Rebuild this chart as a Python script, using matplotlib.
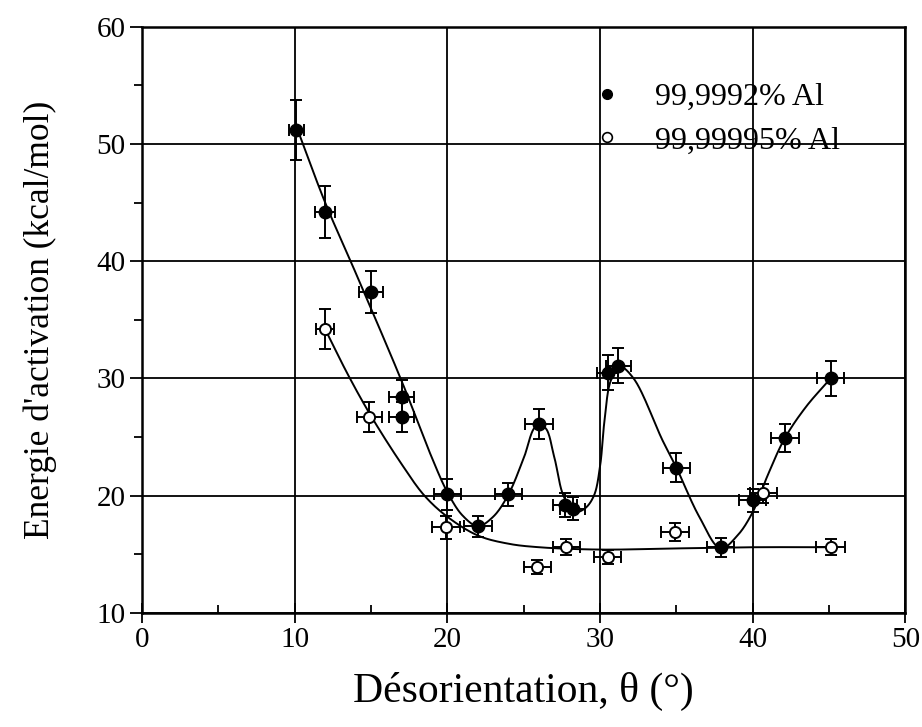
import numpy as np
import matplotlib
matplotlib.use("Agg")
import matplotlib.pyplot as plt
from matplotlib.ticker import MultipleLocator

plt.rcParams["font.family"] = ["Liberation Serif", "DejaVu Serif"]

# 99,9992% Al (points pleins)
x_pur = [10.1, 12.0, 15.0, 17.0, 17.0, 20.0, 22.0, 24.0, 26.0, 27.7, 28.2, 30.5, 31.2, 35.0, 37.9, 40.0, 42.1, 45.1]
y_pur = [51.2, 44.2, 37.4, 28.4, 26.7, 20.1, 17.4, 20.1, 26.1, 19.2, 18.9, 30.5, 31.1, 22.4, 15.6, 19.6, 24.9, 30.0]
yerr_pur = [2.6, 2.2, 1.8, 1.5, 1.3, 1.3, 0.9, 1.0, 1.3, 1.0, 1.0, 1.5, 1.5, 1.2, 0.8, 1.0, 1.2, 1.5]
xerr_pur = [0.5, 0.65, 0.8, 0.8, 0.8, 0.9, 0.9, 0.9, 0.9, 0.8, 0.8, 0.7, 0.8, 0.9, 0.9, 0.9, 0.9, 0.9]

# 99,99995% Al (points creux)
x_ultra = [12.0, 14.9, 19.9, 25.9, 27.8, 30.5, 34.9, 40.7, 45.1]
y_ultra = [34.2, 26.7, 17.3, 13.9, 15.6, 14.8, 16.9, 20.2, 15.6]
yerr_ultra = [1.7, 1.3, 1.0, 0.6, 0.7, 0.6, 0.8, 0.8, 0.7]
xerr_ultra = [0.6, 0.8, 0.9, 0.9, 0.9, 0.9, 0.9, 0.9, 0.95]

# courbes de tendance
cx_pur = [10.2, 12.0, 14.0, 17.0, 19.0, 20.0, 21.0, 22.0, 23.0, 24.0, 25.0, 25.8, 26.4, 27.0, 27.6, 28.3,
          29.0, 29.6, 30.0, 30.3, 30.7, 31.3, 32.2, 34.1, 35.0, 36.5, 37.9, 39.0, 40.0, 41.0, 42.1, 43.5, 45.1]
cy_pur = [51.2, 45.0, 39.0, 29.8, 23.2, 20.3, 18.3, 17.4, 18.2, 20.1, 23.2, 25.9, 25.8, 23.3, 20.0, 18.6,
          18.9, 20.0, 22.5, 26.5, 29.8, 31.0, 30.0, 24.7, 22.4, 18.2, 15.5, 16.6, 18.6, 21.8, 24.9, 27.6, 30.0]
cx_ultra = [12.0, 13.5, 15.0, 17.0, 18.5, 20.0, 22.0, 24.0, 26.0, 30.0, 35.0, 40.0, 45.1]
cy_ultra = [34.2, 30.3, 26.8, 22.7, 20.0, 18.2, 16.6, 15.9, 15.6, 15.4, 15.5, 15.6, 15.6]


def spline(xs, ys, n=25, yscale=0.77):
    # Catmull-Rom centripete, distances mesurees a l'echelle de l'ecran
    p = np.column_stack([xs, np.asarray(ys) * yscale])
    p = np.vstack([2 * p[0] - p[1], p, 2 * p[-1] - p[-2]])
    out = []
    for i in range(1, len(p) - 2):
        p0, p1, p2, p3 = p[i - 1], p[i], p[i + 1], p[i + 2]
        t0 = 0.0
        t1 = t0 + np.linalg.norm(p1 - p0) ** 0.5
        t2 = t1 + np.linalg.norm(p2 - p1) ** 0.5
        t3 = t2 + np.linalg.norm(p3 - p2) ** 0.5
        t = np.linspace(t1, t2, n, endpoint=False)[:, None]
        a1 = (t1 - t) / (t1 - t0) * p0 + (t - t0) / (t1 - t0) * p1
        a2 = (t2 - t) / (t2 - t1) * p1 + (t - t1) / (t2 - t1) * p2
        a3 = (t3 - t) / (t3 - t2) * p2 + (t - t2) / (t3 - t2) * p3
        b1 = (t2 - t) / (t2 - t0) * a1 + (t - t0) / (t2 - t0) * a2
        b2 = (t3 - t) / (t3 - t1) * a2 + (t - t1) / (t3 - t1) * a3
        out.append((t2 - t) / (t2 - t1) * b1 + (t - t1) / (t2 - t1) * b2)
    out.append(p[-2][None, :])
    out = np.vstack(out)
    return out[:, 0], out[:, 1] / yscale


fig = plt.figure(figsize=(9.22, 7.27), dpi=100)
ax = fig.add_axes([0.154, 0.157, 0.828, 0.806])

ax.grid(True, which="major", color="black", linewidth=1.3)
ax.set_axisbelow(True)

sx, sy = spline(cx_pur, cy_pur)
ax.plot(sx, sy, color="black", linewidth=1.4, zorder=2)
sx, sy = spline(cx_ultra, cy_ultra)
ax.plot(sx, sy, color="black", linewidth=1.4, zorder=2)

ax.errorbar(x_pur, y_pur, yerr=yerr_pur, xerr=xerr_pur, fmt="o", color="black",
            markersize=9, elinewidth=1.4, capsize=4, capthick=1.4, zorder=3)
ax.errorbar(x_ultra, y_ultra, yerr=yerr_ultra, xerr=xerr_ultra, fmt="o", color="black",
            markerfacecolor="white", markersize=8, markeredgewidth=1.4,
            elinewidth=1.4, capsize=4, capthick=1.4, zorder=3)

# legende
h1, = ax.plot([], [], "o", color="black", markersize=7)
h2, = ax.plot([], [], "o", color="black", markerfacecolor="white", markersize=7, markeredgewidth=1.2)
ax.legend([h1, h2], ["99,9992% Al", "99,99995% Al"], loc="upper left",
          bbox_to_anchor=(0.588, 0.905), frameon=False, fontsize=23,
          handlelength=1.0, handletextpad=1.0, labelspacing=0.45,
          borderpad=0, borderaxespad=0)

ax.set_xlim(0, 50)
ax.set_ylim(10, 60)
ax.xaxis.set_major_locator(MultipleLocator(10))
ax.xaxis.set_minor_locator(MultipleLocator(5))
ax.yaxis.set_major_locator(MultipleLocator(10))
ax.yaxis.set_minor_locator(MultipleLocator(5))
ax.tick_params(axis="x", which="major", direction="inout", length=14, width=1.3, labelsize=21, pad=3)
ax.tick_params(axis="x", which="minor", direction="in", length=6, width=1.3)
ax.tick_params(axis="y", which="major", direction="out", length=9, width=1.3, labelsize=21, pad=3)
ax.tick_params(axis="y", which="minor", direction="out", length=6, width=1.3)
for s in ax.spines.values():
    s.set_linewidth(1.8)

ax.set_xlabel("Désorientation, θ (°)", fontsize=30, labelpad=14)
ax.set_ylabel("Energie d'activation (kcal/mol)", fontsize=25.5, labelpad=28)

fig.savefig("out.png", dpi=100)
